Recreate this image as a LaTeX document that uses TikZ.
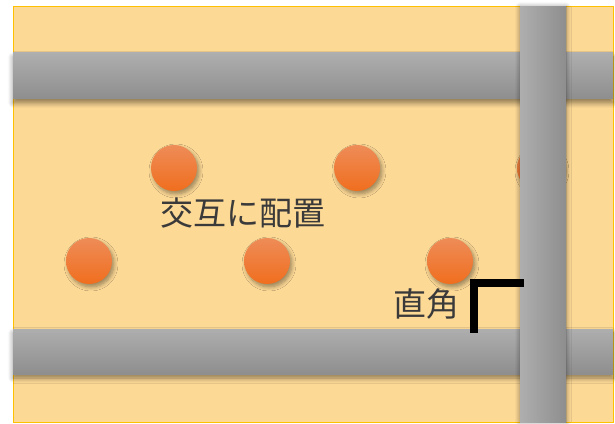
\documentclass[tikz,border=0pt]{standalone}
\usepackage{fontspec}
\newfontfamily\jpfont{Noto Sans CJK JP}
\usetikzlibrary{shadows.blur}
\definecolor{bgfill}{HTML}{FDD996}
\definecolor{bgedge}{HTML}{FFC000}
\definecolor{bartop}{HTML}{AEAEAE}
\definecolor{barbot}{HTML}{8E8E8E}
\definecolor{dottop}{HTML}{EE8C58}
\definecolor{dotbot}{HTML}{F06E1E}
\definecolor{txt}{HTML}{3A3A3A}
\tikzset{
  hbar/.style={top color=bartop, bottom color=barbot, draw=none,
    blur shadow={shadow xshift=0pt, shadow yshift=-4pt, shadow blur radius=5pt, shadow blur steps=8, shadow opacity=45}},
  vbar/.style={left color=bartop, right color=barbot, draw=none,
    blur shadow={shadow xshift=0pt, shadow yshift=0pt, shadow blur radius=5pt, shadow blur steps=8, shadow opacity=45}},
  dot/.style={circle, minimum size=46pt, inner sep=0pt, top color=dottop, bottom color=dotbot, draw=none,
    blur shadow={shadow xshift=2pt, shadow yshift=-3pt, shadow blur radius=4pt, shadow blur steps=8, shadow opacity=40}},
  lbl/.style={font=\jpfont\fontsize{33pt}{36pt}\selectfont, text=txt, inner sep=0pt},
  corner/.style={line width=8pt, line join=miter, line cap=butt, black}
}
\begin{document}
\begin{tikzpicture}[x=1pt,y=1pt]
\useasboundingbox (0,0) rectangle (615,423);
\draw[fill=bgfill, draw=bgedge, line width=1pt] (13,1) rectangle (613,416);
% dots
\node[dot] (d1) at (174,255) {};
\node[dot] (d2) at (357,255) {};
\node[dot] (d3) at (540,255) {};
\node[dot] (d4) at (89,162) {};
\node[dot] (d5) at (267,162) {};
\node[dot] (d6) at (450,162) {};
% bars
\path[hbar] (13,324) rectangle (613,370);
\path[hbar] (13,49) rectangle (613,94);
\path[vbar] (520,1) rectangle (566,416);
% labels
\node[lbl] (t1) at (243,209.5) {交互に配置};
\node[lbl] (t2) at (426,119.5) {直角};
% corner marker
\coordinate (c1) at (524,140);
\coordinate (c2) at (473.5,140);
\coordinate (c3) at (473.5,90);
\draw[corner] (c1) -- (c2) -- (c3);
\end{tikzpicture}
\end{document}
